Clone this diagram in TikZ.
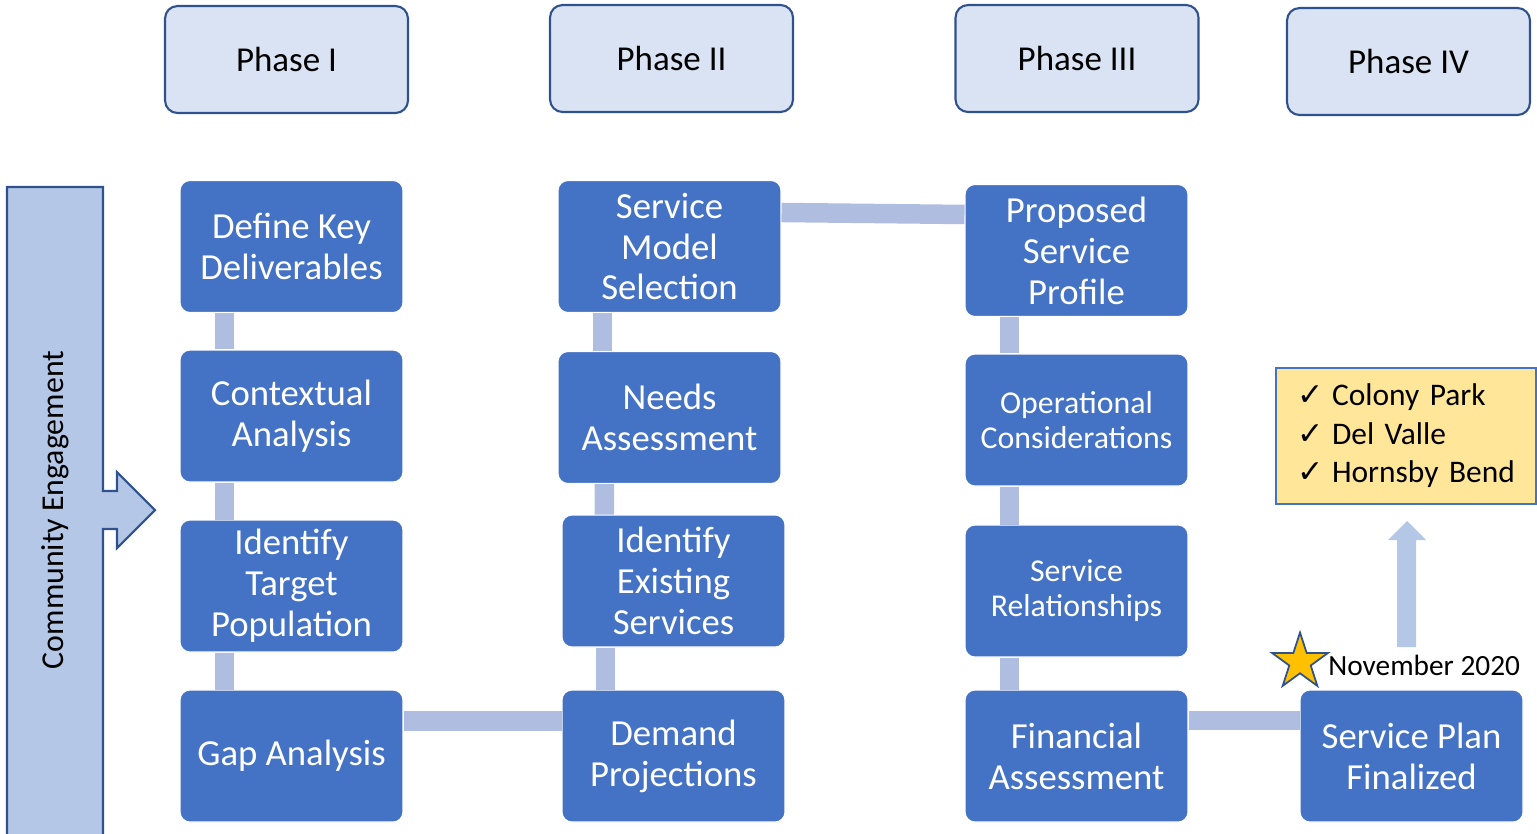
\documentclass[tikz,border=0pt]{standalone}
\usepackage{fontspec}
\setmainfont{Carlito}
\newfontfamily\symfont{DejaVu Sans}
\usetikzlibrary{shapes.geometric}
\definecolor{boxblue}{RGB}{68,114,196}
\definecolor{phasefill}{RGB}{218,227,243}
\definecolor{darkblue}{RGB}{47,82,143}
\definecolor{linkblue}{RGB}{175,189,224}
\definecolor{paleblue}{RGB}{180,199,231}
\definecolor{lightyellow}{RGB}{255,230,153}
\definecolor{stargold}{RGB}{255,192,0}
\newcommand{\chk}{\makebox[0.7cm][l]{\symfont ✓}}

\begin{document}
\begin{tikzpicture}[x=0.02cm,y=-0.02cm,
  phase/.style={draw=darkblue,line width=1.2pt,fill=phasefill,rounded corners=0.25cm,minimum width=4.86cm,minimum height=2.14cm,font=\fontsize{19.9}{23}\selectfont},
  task/.style={draw=white,line width=0.6pt,fill=boxblue,rounded corners=0.2cm,minimum width=4.46cm,minimum height=2.64cm,text=white,align=center,font=\fontsize{20.9}{23.3}\selectfont},
  small/.style={font=\fontsize{18.1}{19.9}\selectfont},
  link/.style={draw=linkblue,line width=0.39cm}]
\useasboundingbox (0,0) rectangle (1537,833);
% community engagement arrow
\draw [darkblue,line width=1.2pt,fill=paleblue] (7,187) -- (103,187) -- (103,491) -- (117,491) -- (117,472) -- (155,510) -- (117,548) -- (117,529) -- (103,529) -- (103,840) -- (7,840) -- cycle;
\node [rotate=90,font=\fontsize{18.1}{20}\selectfont] (engage) at (55,510) {Community Engagement};
% phases
\node [phase] (ph1) at (286.5,59.5) {Phase I};
\node [phase] (ph2) at (671.5,58.5) {Phase II};
\node [phase] (ph3) at (1077,58.5) {Phase III};
\node [phase] (ph4) at (1408.5,61.5) {Phase IV};
% steps
\node [task] (define) at (291.5,246.5) {Define Key\\Deliverables};
\node [task] (context) at (291.5,416) {Contextual\\Analysis};
\node [task] (target) at (291.5,586) {Identify\\Target\\Population};
\node [task] (gap) at (291.5,756) {Gap Analysis};
\node [task] (model) at (669.5,246.5) {Service\\Model\\Selection};
\node [task] (needs) at (669.5,417.5) {Needs\\Assessment};
\node [task] (existing) at (673.5,581) {Identify\\Existing\\Services};
\node [task] (demand) at (673.5,756) {Demand\\Projections};
\node [task] (profile) at (1076.5,250.5) {Proposed\\Service\\Profile};
\node [task,small] (ops) at (1076.5,420) {Operational\\Considerations};
\node [task,small] (relations) at (1076.5,591) {Service\\Relationships};
\node [task] (finance) at (1076.5,756) {Financial\\Assessment};
\node [task] (plan) at (1411.5,756) {Service Plan\\Finalized};
% links
\draw [link] ([xshift=0.9cm]define.south west) -- ([xshift=0.9cm]context.north west);
\draw [link] ([xshift=0.9cm]context.south west) -- ([xshift=0.9cm]target.north west);
\draw [link] ([xshift=0.9cm]target.south west) -- ([xshift=0.9cm]gap.north west);
\draw [link] ([xshift=0.9cm]model.south west) -- ([xshift=0.9cm]needs.north west);
\draw [link] ([xshift=0.94cm]needs.south west) -- ([xshift=0.86cm]existing.north west);
\draw [link] ([xshift=0.88cm]existing.south west) -- ([xshift=0.88cm]demand.north west);
\draw [link] ([xshift=0.9cm]profile.south west) -- ([xshift=0.9cm]ops.north west);
\draw [link] ([xshift=0.9cm]ops.south west) -- ([xshift=0.9cm]relations.north west);
\draw [link] ([xshift=0.9cm]relations.south west) -- ([xshift=0.9cm]finance.north west);
\draw [link] ([yshift=-0.63cm]gap.north east) -- ([yshift=-0.63cm]demand.north west);
\draw [link] ([yshift=-0.65cm]model.north east) -- ([yshift=-0.61cm]profile.north west);
\draw [link] ([yshift=-0.62cm]finance.north east) -- ([yshift=-0.62cm]plan.north west);
% outcome
\node [draw=boxblue,line width=1pt,fill=lightyellow,minimum width=5.2cm,minimum height=2.72cm,text width=4.36cm,inner xsep=0.42cm,align=left,font=\fontsize{17.9}{21.9}\selectfont] (sites) at (1406,436) {\chk Colony Park\\\chk Del Valle\\\chk Hornsby Bend};
\fill [paleblue] (1397,647) -- (1397,540) -- (1388,540) -- (1407,521) -- (1426,540) -- (1416,540) -- (1416,647) -- cycle;
\node [star,star points=5,star point ratio=2.618,minimum size=1.18cm,inner sep=0,draw=darkblue,line width=1pt,fill=stargold] (star) at (1300,662) {};
\node [anchor=base west,inner sep=0,font=\fontsize{16.7}{20}\selectfont] (date) at (1328,675) {November 2020};
\end{tikzpicture}
\end{document}
